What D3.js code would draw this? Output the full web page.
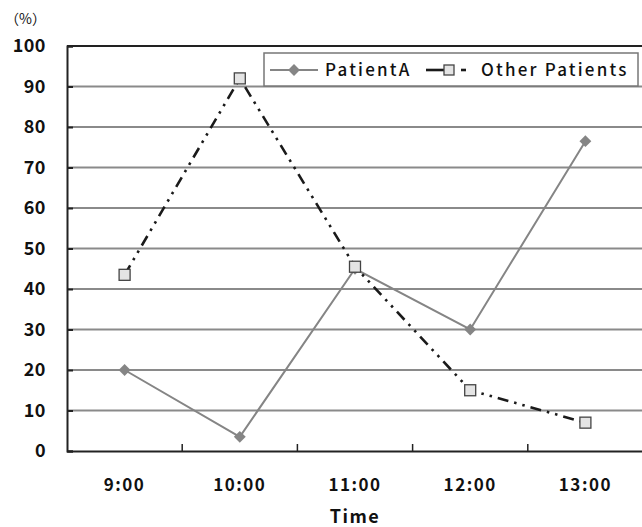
<!DOCTYPE html>
<html>
<head>
<meta charset="utf-8">
<script src="https://cdn.jsdelivr.net/npm/d3@7"></script>
<style>
  body { margin: 0; background: #fff; }
  svg { display: block; }
  text { font-family: "Noto Sans CJK JP", "DejaVu Sans", sans-serif; fill: #111; }
</style>
</head>
<body>
<div id="chart"></div>
<script>
var times = ["9:00", "10:00", "11:00", "12:00", "13:00"];
var patientA = [20, 3.5, 45, 30, 76.5];
var otherPatients = [43.5, 92, 45.5, 15, 7];
var yTicks = [0, 10, 20, 30, 40, 50, 60, 70, 80, 90, 100];

var width = 642, height = 527;
var margin = {top: 46, right: -1, bottom: 76, left: 67};

var svg = d3.select("#chart").append("svg")
  .attr("width", width)
  .attr("height", height);

var x = d3.scaleBand()
  .domain(times)
  .range([margin.left, width - margin.right]);

var y = d3.scaleLinear()
  .domain([0, 100])
  .range([height - margin.bottom, margin.top]);

// gridlines
svg.append("g")
  .selectAll("line")
  .data(yTicks.filter(function(d) { return d > 0 && d < 100; }))
  .enter().append("line")
    .attr("x1", margin.left)
    .attr("x2", width)
    .attr("y1", function(d) { return y(d); })
    .attr("y2", function(d) { return y(d); })
    .attr("stroke", "#8a8a8a")
    .attr("stroke-width", 2);

// top border
svg.append("line")
  .attr("x1", margin.left).attr("x2", width)
  .attr("y1", y(100)).attr("y2", y(100))
  .attr("stroke", "#222").attr("stroke-width", 2);

// y axis
var yAxis = svg.append("g")
  .attr("transform", "translate(" + margin.left + ",0)")
  .call(d3.axisLeft(y).tickValues(yTicks).tickSize(-6).tickPadding(21));
yAxis.select(".domain").attr("stroke", "#222").attr("stroke-width", 2);
yAxis.selectAll(".tick line").attr("stroke", "#222").attr("stroke-width", 2);
yAxis.selectAll(".tick text")
  .style("font-size", "18px")
  .style("font-weight", "bold")
  .style("letter-spacing", "0.5px")
  .attr("fill", "#111");

// x axis
var xAxis = svg.append("g")
  .attr("transform", "translate(0," + y(0) + ")")
  .call(d3.axisBottom(x).tickSize(0).tickPadding(28));
xAxis.select(".domain").attr("stroke", "#222").attr("stroke-width", 2);
xAxis.selectAll(".tick text")
  .style("font-size", "17px")
  .style("font-weight", "bold")
  .style("letter-spacing", "1.5px")
  .attr("fill", "#111");

// boundary ticks between categories
svg.append("g")
  .selectAll("line")
  .data(times.slice(1))
  .enter().append("line")
    .attr("x1", function(d) { return x(d); })
    .attr("x2", function(d) { return x(d); })
    .attr("y1", y(0))
    .attr("y2", y(0) - 7)
    .attr("stroke", "#222")
    .attr("stroke-width", 1.5);

var cx = function(i) { return x(times[i]) + x.bandwidth() / 2; };

// lines
var lineA = d3.line().x(function(d, i) { return cx(i); }).y(function(d) { return y(d); });

svg.append("path")
  .datum(patientA)
  .attr("d", lineA)
  .attr("fill", "none")
  .attr("stroke", "#858585")
  .attr("stroke-width", 2);

svg.append("path")
  .datum(otherPatients)
  .attr("d", lineA)
  .attr("fill", "none")
  .attr("stroke", "#1a1a1a")
  .attr("stroke-width", 2.6)
  .attr("stroke-dasharray", "11,6,2.5,6,2.5,6");

// markers
svg.append("g")
  .selectAll("path")
  .data(patientA)
  .enter().append("path")
    .attr("d", d3.symbol().type(d3.symbolDiamond2).size(90))
    .attr("transform", function(d, i) { return "translate(" + cx(i) + "," + y(d) + ")"; })
    .attr("fill", "#858585");

svg.append("g")
  .selectAll("rect")
  .data(otherPatients)
  .enter().append("rect")
    .attr("x", function(d, i) { return cx(i) - 5.5; })
    .attr("y", function(d) { return y(d) - 5.5; })
    .attr("width", 11)
    .attr("height", 11)
    .attr("fill", "#e4e4e4")
    .attr("stroke", "#444")
    .attr("stroke-width", 1.3);

// legend
var legend = svg.append("g").attr("transform", "translate(264,53)");
legend.append("rect")
  .attr("width", 374).attr("height", 33)
  .attr("fill", "#fff")
  .attr("stroke", "#777")
  .attr("stroke-width", 1.5);
legend.append("line")
  .attr("x1", 6).attr("x2", 54).attr("y1", 17).attr("y2", 17)
  .attr("stroke", "#858585").attr("stroke-width", 2);
legend.append("path")
  .attr("d", d3.symbol().type(d3.symbolDiamond2).size(90))
  .attr("transform", "translate(30,17)")
  .attr("fill", "#858585");
legend.append("text")
  .attr("x", 61).attr("y", 23)
  .style("font-size", "17px")
  .style("font-weight", "500")
  .style("letter-spacing", "2.2px")
  .text("PatientA");
legend.append("line")
  .attr("x1", 162).attr("x2", 180).attr("y1", 17).attr("y2", 17)
  .attr("stroke", "#1a1a1a").attr("stroke-width", 2.6);
legend.append("rect")
  .attr("x", 180).attr("y", 12).attr("width", 10).attr("height", 10)
  .attr("fill", "#e4e4e4").attr("stroke", "#444").attr("stroke-width", 1.3);
legend.append("line")
  .attr("x1", 197).attr("x2", 202).attr("y1", 17).attr("y2", 17)
  .attr("stroke", "#1a1a1a").attr("stroke-width", 2.6);
legend.append("text")
  .attr("x", 217).attr("y", 23)
  .style("font-size", "17px")
  .style("font-weight", "500")
  .style("letter-spacing", "2.2px")
  .text("Other Patients");

// unit label
svg.append("text")
  .attr("x", 5).attr("y", 24)
  .style("font-size", "14px")
  .text("（%）");

// x title
svg.append("text")
  .attr("x", cx(2)).attr("y", 523)
  .attr("text-anchor", "middle")
  .style("font-size", "18px")
  .style("font-weight", "bold")
  .style("letter-spacing", "1.5px")
  .text("Time");
</script>
</body>
</html>
